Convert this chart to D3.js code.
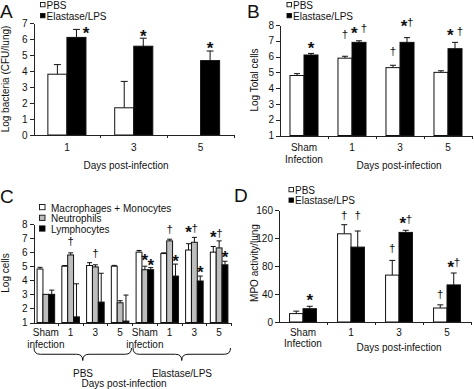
<!DOCTYPE html>
<html>
<head>
<meta charset="utf-8">
<script src="https://cdn.jsdelivr.net/npm/d3@7"></script>
<style>
  body { margin: 0; background: #fff; }
  svg { display: block; font-family: "Liberation Sans", Arial, sans-serif; }
  .axis path, .axis line { stroke: #222; stroke-width: 1px; shape-rendering: crispEdges; }
  .axis text { font-size: 10px; fill: #111; font-family: "Liberation Sans", Arial, sans-serif; }
  .lbl { font-size: 10px; fill: #111; }
  .letter { font-size: 19px; fill: #111; }
  .err { stroke: #111; stroke-width: 1px; fill: none; }
  .xline { stroke: #222; stroke-width: 1px; shape-rendering: crispEdges; }
</style>
</head>
<body>
<svg id="chart" width="474" height="389"></svg>
<script>
// ---- A: bacteria in lung
var aDays = ["1", "3", "5"];
var aLabels = [["1"], ["3"], ["5"]];
var twoSeries = ["PBS", "Elastase/LPS"];
var aPBS = [3.8, 1.7, 0];
var aPBSErr = [0.6, 1.65, 0];
var aELPS = [6.1, 5.55, 4.65];
var aELPSErr = [0.5, 0.5, 0.6];
var aYTicks = [0, 1, 2, 3, 4, 5, 6, 7];
var aMarks = [
  {group: "1", series: "Elastase/LPS", text: "*", at: 6.6, side: "right"},
  {group: "3", series: "Elastase/LPS", text: "*", at: 6.42},
  {group: "5", series: "Elastase/LPS", text: "*", at: 5.67}
];

// ---- B: total cells
var bGroups = ["Sham", "1", "3", "5"];
var bLabels = [["Sham", "Infection"], ["1"], ["3"], ["5"]];
var bPBS = [4.8, 5.9, 5.3, 5.0];
var bPBSErr = [0.12, 0.12, 0.15, 0.1];
var bELPS = [6.1, 6.9, 6.9, 6.5];
var bELPSErr = [0.1, 0.1, 0.3, 0.4];
var bYTicks = [1, 2, 3, 4, 5, 6, 7, 8];
var bMarks = [
  {group: "Sham", series: "Elastase/LPS", text: "*", at: 6.74},
  {group: "1", series: "PBS", text: "†", at: 7.4},
  {group: "1", series: "Elastase/LPS", text: "* †", at: 7.73},
  {group: "3", series: "PBS", text: "†", at: 6.3},
  {group: "3", series: "Elastase/LPS", text: "*†", at: 8.14},
  {group: "5", series: "Elastase/LPS", text: "* †", at: 7.58}
];

// ---- C: cell types
var cGroups = ["PBS Sham", "PBS 1", "PBS 3", "PBS 5", "E Sham", "E 1", "E 3", "E 5"];
var cLabels = [["Sham", "infection"], ["1"], ["3"], ["5"], ["Sham", "infection"], ["1"], ["3"], ["5"]];
var cSeries = ["Macrophages + Monocytes", "Neutrophils", "Lymphocytes"];
var cMac = [4.8, 5.0, 5.05, 5.0, 6.0, 5.9, 6.15, 6.0];
var cMacErr = [0.12, 0.05, 0.2, 0.06, 0.12, 0.05, 0.45, 0.4];
var cNeu = [3.0, 5.8, 4.95, 2.4, 4.75, 6.8, 6.7, 6.3];
var cNeuErr = [0, 0.15, 0.15, 0.15, 0.25, 0.12, 0.35, 0.5];
var cLym = [3.0, 1.4, 2.45, 1.1, 4.75, 4.3, 3.95, 5.1];
var cLymErr = [0.3, 2.35, 2.05, 1.85, 0.15, 0.85, 0.35, 0.25];
var cYTicks = [1, 2, 3, 4, 5, 6, 7, 8];
var cTreatments = ["PBS", "Elastase/LPS"];
var cMarks = [
  {group: "PBS 1", series: "Neutrophils", text: "†", at: 6.7},
  {group: "PBS 3", series: "Neutrophils", text: "†", at: 5.9},
  {group: "E Sham", series: "Neutrophils", text: "*", at: 5.67},
  {group: "E Sham", series: "Lymphocytes", text: "*", at: 5.36},
  {group: "E 1", series: "Neutrophils", text: "†", at: 7.6},
  {group: "E 1", series: "Lymphocytes", text: "*", at: 5.6},
  {group: "E 3", series: ["Macrophages + Monocytes", "Neutrophils"], text: "*†", at: 7.68},
  {group: "E 3", series: "Lymphocytes", text: "*", at: 4.84},
  {group: "E 5", series: ["Macrophages + Monocytes", "Neutrophils"], text: "*†", at: 7.33},
  {group: "E 5", series: "Lymphocytes", text: "*", at: 5.9}
];

// ---- D: MPO activity
var dPBS = [12, 126, 67, 20];
var dPBSErr = [3.5, 13, 21, 4.5];
var dELPS = [19, 107, 128, 53];
var dELPSErr = [3.5, 23, 3, 17];
var dYTicks = [0, 40, 80, 120, 160];
var dMarks = [
  {group: "Sham", series: "Elastase/LPS", text: "*", at: 36},
  {group: "1", series: "PBS", text: "†", at: 152},
  {group: "1", series: "Elastase/LPS", text: "†", at: 152},
  {group: "3", series: "PBS", text: "†", at: 105},
  {group: "3", series: "Elastase/LPS", text: "*†", at: 146},
  {group: "5", series: "PBS", text: "†", at: 38.6},
  {group: "5", series: "Elastase/LPS", text: "*†", at: 84}
];

var svg = d3.select("#chart");

function panel(p) {
  var g = svg.append("g");
  var x0 = d3.scaleBand().domain(p.groups).range([p.left, p.right]);
  var bw = x0.bandwidth();
  var x1 = d3.scaleBand().domain(p.series).range([bw * p.pad, bw * (1 - p.pad)]);
  var y = d3.scaleLinear().domain(p.ydom).range([p.bottom, p.top]);
  var base = y(p.ydom[0]);

  p.series.forEach(function (s, j) {
    p.groups.forEach(function (grp, i) {
      var v = p.values[j][i], e = p.errs[j][i];
      var bx = x0(grp) + x1(s), cx = bx + x1.bandwidth() / 2;
      g.append("rect")
        .attr("x", bx).attr("y", y(v))
        .attr("width", x1.bandwidth()).attr("height", base - y(v))
        .attr("fill", p.fills[j]).attr("stroke", "#111").attr("stroke-width", 1);
      if (e > 0) {
        g.append("line").attr("class", "err")
          .attr("x1", cx).attr("x2", cx).attr("y1", y(v)).attr("y2", y(v + e));
        g.append("line").attr("class", "err")
          .attr("x1", cx - p.cap / 2).attr("x2", cx + p.cap / 2)
          .attr("y1", y(v + e)).attr("y2", y(v + e));
      }
    });
  });

  g.append("g").attr("class", "axis")
    .attr("transform", "translate(" + p.left + ",0)")
    .call(d3.axisLeft(y).tickValues(p.yticks).tickFormat(d3.format("d"))
      .tickSize(4).tickSizeOuter(0).tickPadding(2));

  // category axis: a line with small ticks between categories
  g.append("line").attr("class", "xline")
    .attr("x1", p.left).attr("x2", p.right).attr("y1", base + 0.5).attr("y2", base + 0.5);
  p.groups.slice(1).concat([null]).forEach(function (grp) {
    var tx = grp === null ? p.right : x0(grp);
    g.append("line").attr("class", "xline")
      .attr("x1", tx).attr("x2", tx).attr("y1", base).attr("y2", base + 3);
  });

  p.groups.forEach(function (grp, i) {
    var t = g.append("text").attr("class", "lbl").attr("text-anchor", "middle")
      .attr("x", x0(grp) + bw / 2).attr("y", base + p.labelDy);
    p.labels[i].forEach(function (line, k) {
      t.append("tspan").attr("x", x0(grp) + bw / 2).attr("dy", k === 0 ? 0 : 11.5).text(line);
    });
  });

  // significance marks
  p.marks.forEach(function (m) {
    var ss = Array.isArray(m.series) ? m.series : [m.series];
    var cx = d3.mean(ss, function (s) { return x0(m.group) + x1(s) + x1.bandwidth() / 2; });
    if (m.side === "right") cx += x1.bandwidth() / 2;
    var cy = y(m.at);
    var chars = Array.from(m.text);
    var adv = function (c) { return c === "*" ? 6.5 : c === "†" ? 6 : 3.5; };
    var xx = cx - d3.sum(chars, adv) / 2;
    chars.forEach(function (c) {
      if (c !== " ") {
        g.append("text").attr("text-anchor", "middle")
          .attr("x", xx + adv(c) / 2)
          .attr("y", cy + (c === "*" ? 9.6 : 3.2))
          .attr("font-size", c === "*" ? 17 : 11.5)
          .attr("font-weight", c === "*" ? "bold" : "normal")
          .attr("fill", "#111")
          .text(c);
      }
      xx += adv(c);
    });
  });

  return {g: g, x0: x0, y: y};
}

function ylabel(x, y, txt) {
  svg.append("text").attr("class", "lbl").attr("text-anchor", "middle")
    .attr("transform", "translate(" + x + "," + y + ") rotate(-90)").text(txt);
}
function text(x, y, txt, anchor) {
  svg.append("text").attr("class", "lbl").attr("text-anchor", anchor || "start")
    .attr("x", x).attr("y", y).text(txt);
}
function letter(x, y, txt) {
  svg.append("text").attr("class", "letter").attr("x", x).attr("y", y).text(txt);
}
function legend(x, y, names, fills, box, step) {
  names.forEach(function (n, i) {
    svg.append("rect").attr("x", x).attr("y", y + i * step - box - 1.5)
      .attr("width", box).attr("height", box * 0.95)
      .attr("fill", fills[i]).attr("stroke", "#111").attr("stroke-width", 0.9);
    text(x + box + 1.5 + (box > 5 ? 4.5 : 0), y + i * step, n);
  });
}

var twoFills = ["#fff", "#000"];

// ---- A
panel({groups: aDays, labels: aLabels, series: twoSeries, values: [aPBS, aELPS], errs: [aPBSErr, aELPSErr],
  fills: twoFills, left: 33.5, right: 234, top: 23, bottom: 135, ydom: [0, 7], yticks: aYTicks,
  pad: 0.215, cap: 7, labelDy: 15.5, marks: aMarks});
letter(0, 17.5, "A");
legend(40.5, 8.5, twoSeries, twoFills, 4.5, 11);
ylabel(8.5, 79, "Log bacteria (CFU/lung)");
text(126, 168.5, "Days post-infection", "middle");

// ---- B
panel({groups: bGroups, labels: bLabels, series: twoSeries, values: [bPBS, bELPS], errs: [bPBSErr, bELPSErr],
  fills: twoFills, left: 280, right: 472, top: 25, bottom: 135.5, ydom: [1, 8], yticks: bYTicks,
  pad: 0.208, cap: 6, labelDy: 15.5, marks: bMarks});
letter(247, 17.5, "B");
legend(287, 8.5, twoSeries, twoFills, 4.5, 11);
ylabel(257.5, 80, "Log Total cells");
text(399, 168.5, "Days post-infection", "middle");

// ---- C
panel({groups: cGroups, labels: cLabels, series: cSeries, values: [cMac, cNeu, cLym], errs: [cMacErr, cNeuErr, cLymErr],
  fills: ["#fff", "#bdbdbd", "#000"], left: 33.5, right: 231.5, top: 224, bottom: 322.5, ydom: [1, 8], yticks: cYTicks,
  pad: 0.145, cap: 5, labelDy: 13.5, marks: cMarks});
letter(0, 203, "C");
legend(39.5, 211.5, cSeries, ["#fff", "#bdbdbd", "#000"], 5.5, 10.7);
ylabel(8.5, 273, "Log cells");

function brace(x1, x2, y0, h) {
  var xm = (x1 + x2) / 2, q = h / 2;
  return "M" + x1 + "," + y0 + " Q" + x1 + "," + (y0 + q) + " " + (x1 + q) + "," + (y0 + q) +
    " L" + (xm - q) + "," + (y0 + q) + " Q" + xm + "," + (y0 + q) + " " + xm + "," + (y0 + h) +
    " Q" + xm + "," + (y0 + q) + " " + (xm + q) + "," + (y0 + q) +
    " L" + (x2 - q) + "," + (y0 + q) + " Q" + x2 + "," + (y0 + q) + " " + x2 + "," + y0;
}
var cx0 = d3.scaleBand().domain(cGroups).range([33.5, 231.5]);
cTreatments.forEach(function (t, k) {
  var first = cx0(cGroups[k * 4]), last = cx0(cGroups[k * 4 + 3]) + cx0.bandwidth();
  svg.append("path").attr("d", brace(first + 0.5, last - 1, 348, 12.5))
    .attr("fill", "none").attr("stroke", "#111").attr("stroke-width", 1);
  text((first + last) / 2, 376.5, t, "middle");
});
text(124, 386.5, "Days post-infection", "middle");

// ---- D
panel({groups: bGroups, labels: bLabels, series: twoSeries, values: [dPBS, dELPS], errs: [dPBSErr, dELPSErr],
  fills: twoFills, left: 279, right: 471, top: 210, bottom: 322, ydom: [0, 160], yticks: dYTicks,
  pad: 0.22, cap: 6, labelDy: 13.5, marks: dMarks});
letter(234, 202, "D");
legend(289, 193.5, twoSeries, twoFills, 4.5, 10.5);
ylabel(258, 263, "MPO activity/lung");
text(399, 350.5, "Days post-infection", "middle");
</script>
</body>
</html>
